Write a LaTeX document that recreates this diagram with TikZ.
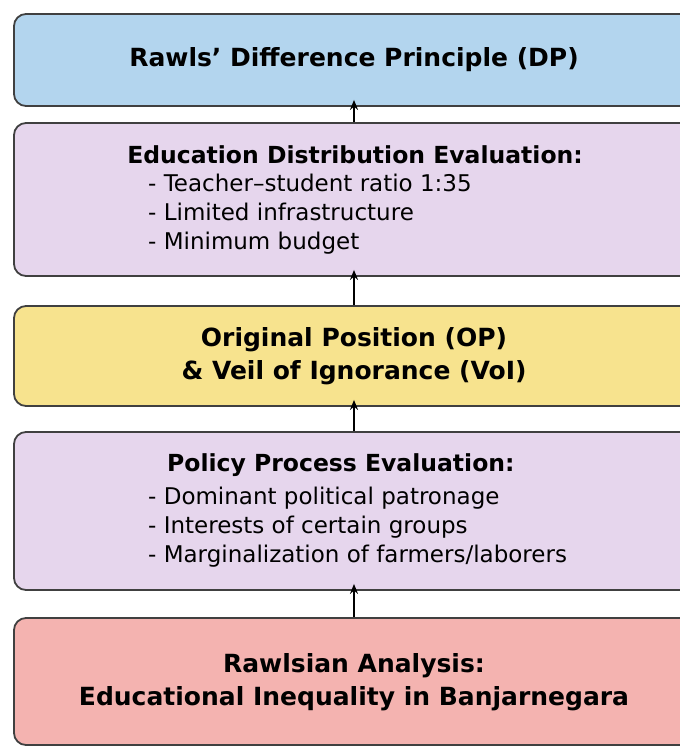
\documentclass[tikz,border=0pt]{standalone}
\usepackage{fontspec}
\setmainfont{DejaVu Sans}
\usepackage{tikz}
\usetikzlibrary{arrows.meta}
\definecolor{RawlsBoxBlue}{RGB}{179,213,238}
\definecolor{RawlsBoxLilac}{RGB}{230,214,237}
\definecolor{RawlsBoxYellow}{RGB}{247,227,142}
\definecolor{RawlsBoxRed}{RGB}{244,179,176}
\definecolor{RawlsBoxEdge}{RGB}{64,64,64}

\begin{document}
\begin{tikzpicture}[x=1pt,y=-1pt,box/.style n args={2}{draw=RawlsBoxEdge,line width=1.8pt,fill=#1,minimum width=680pt,minimum height=#2pt,rounded corners=12pt,rectangle,inner sep=0pt},ttl/.style={font=\bfseries\fontsize{25}{33}\selectfont,align=center,inner sep=0pt},hdr/.style={font=\bfseries\fontsize{23.5}{29}\selectfont,inner sep=0pt},itm/.style={font=\fontsize{23}{29}\selectfont,align=left,inner sep=0pt},flow/.style={-{Stealth[length=10pt,width=8pt]},line width=1.8pt,shorten >=-7pt}]
\useasboundingbox (0,0) rectangle (680,747);
% the five stages, bottom one is the starting point
\node[box={RawlsBoxBlue}{92}](b1) at (354,60) {};
\node[box={RawlsBoxLilac}{153}](b2) at (354,199.5) {};
\node[box={RawlsBoxYellow}{100}](b3) at (354,356) {};
\node[box={RawlsBoxLilac}{158}](b4) at (354,511) {};
\node[box={RawlsBoxRed}{127}](b5) at (354,681.5) {};
% texts
\node[ttl](t1) at (354,60) {Rawls’ Difference Principle (DP)};
\node[hdr](h2) at (355,155) {Education Distribution Evaluation:};
\node[itm,anchor=west](l2) at (148,214) {- Teacher–student ratio 1:35\\- Limited infrastructure\\- Minimum budget};
\node[ttl](t3) at (354,356) {Original Position (OP)\\\& Veil of Ignorance (VoI)};
\node[hdr,anchor=west](h4) at (167,465) {Policy Process Evaluation:};
\node[itm,anchor=west](l4) at (148,527) {- Dominant political patronage\\- Interests of certain groups\\- Marginalization of farmers/laborers};
\node[ttl](t5) at (354,682) {Rawlsian Analysis:\\Educational Inequality in Banjarnegara};
% arrows upwards
\foreach \a/\b in {b5/b4,b4/b3,b3/b2,b2/b1} {
   \draw[flow] (\a) -- (\b);
}
\end{tikzpicture}
\end{document}
